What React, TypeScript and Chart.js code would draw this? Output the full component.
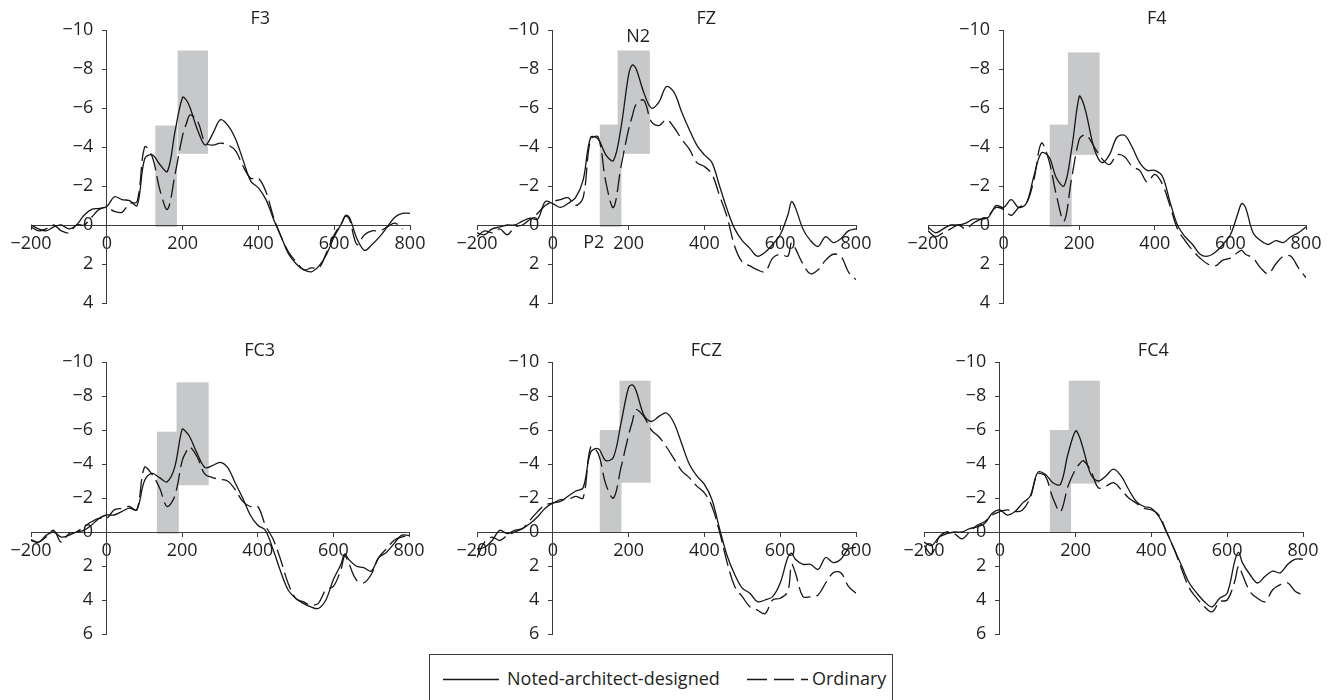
import { useEffect, useRef } from "react";
import { Chart, registerables } from "chart.js";

Chart.register(...registerables);

// ---------- data ----------
const TIMES = [
  -200, -180, -160, -140, -120, -100, -80, -60, -40, -20,
  0, 20, 40, 60, 80, 100, 120, 140, 160, 180, 200,
  210,
  220, 240, 260, 280, 300, 320, 340, 360, 380, 400, 420, 440, 460, 480, 500, 520, 540, 560, 580, 600, 620,
  630,
  640, 660, 680, 700, 720, 740, 760, 780, 800,
];

const TITLES = ["F3", "FZ", "F4", "FC3", "FCZ", "FC4"];
const SERIES_LABELS = ["Noted-architect-designed", "Ordinary"];

const F3_SOLID = [
  0.0, 0.2, 0.3, 0.1, 0.0, 0.2, 0.0, -0.5, -0.8, -0.85,
  -0.95, -1.45, -1.3, -1.25, -1.0, -3.4, -3.6, -3.1, -2.75, -4.8, -6.55,
  -6.4,
  -6.0, -4.85, -4.1, -4.7, -5.4, -5.1, -4.4, -3.3, -2.25, -1.9, -1.3, -0.3, 0.6, 1.5, 2.0, 2.3, 2.4, 2.1, 1.5, 0.6, -0.1,
  -0.5,
  -0.4, 0.7, 1.3, 1.0, 0.6, 0.1, -0.4, -0.6, -0.6,
];
const F3_DASH = [
  0.1, 0.3, 0.2, 0.0, 0.3, 0.4, 0.0, 0.0, -0.4, -0.8,
  -0.9, -0.7, -0.65, -1.1, -1.2, -4.0, -3.5, -1.8, -0.8, -2.6, -4.6,
  -5.2,
  -5.65, -5.3, -4.2, -4.1, -4.2, -4.1, -3.8, -3.0, -2.4, -2.4, -1.7, -0.4, 0.6, 1.4, 1.9, 2.3, 2.2, 2.2, 1.4, 0.5, -0.1,
  -0.45,
  -0.3, 1.0, 0.5, 0.3, 0.3, 0.1, -0.1, 0.2, null,
];

const FZ_SOLID = [
  0.4, 0.5, 0.2, 0.1, 0.0, 0.0, -0.2, -0.35, -0.3, -1.2,
  -1.1, -0.9, -1.1, -1.4, -2.3, -4.5, -4.4, -3.6, -3.3, -5.0, -7.7,
  -8.2,
  -8.0, -6.8, -6.0, -6.3, -7.1, -6.8, -5.8, -4.9, -4.1, -3.6, -3.2, -2.0, -0.8, 0.2, 0.8, 1.2, 1.6, 1.4, 1.0, 0.5, -0.5,
  -1.2,
  -0.9, 0.2, 0.8, 1.1, 0.6, 0.9, 0.7, 0.3, 0.2,
];
const FZ_DASH = [
  0.6, 0.3, 0.4, 0.2, 0.5, 0.1, 0.0, -0.3, -0.6, -1.0,
  -1.2, -1.3, -1.4, -1.0, -1.4, -4.4, -4.5, -2.2, -0.9, -3.0, -4.9,
  -5.6,
  -6.2, -6.4, -5.3, -5.1, -5.4, -5.0, -4.4, -3.9, -3.2, -3.0, -2.6, -1.5, -0.4, 1.1, 1.9, 2.1, 2.3, 2.4, 1.7, 1.5, 1.6,
  0.9,
  1.2, 2.0, 2.5, 2.3, 1.8, 1.5, 1.6, 2.4, 2.8,
];

const F4_SOLID = [
  0.1, 0.4, 0.2, 0.0, 0.0, -0.1, -0.3, -0.3, -0.4, -1.0,
  -0.9, -1.3, -0.9, -1.1, -2.5, -3.7, -3.5, -2.4, -2.0, -3.9, -6.6,
  -6.3,
  -5.6, -3.9, -3.2, -3.6, -4.5, -4.6, -4.0, -3.2, -2.8, -2.8, -2.5, -1.2, 0.0, 0.6, 1.0, 1.5, 1.6, 1.4, 1.0, 0.5, -0.6,
  -1.1,
  -0.9, 0.4, 0.8, 1.0, 0.8, 0.9, 0.6, 0.4, 0.1,
];
const F4_DASH = [
  0.3, 0.6, 0.4, 0.2, 0.0, 0.2, -0.1, -0.3, -0.5, -0.9,
  -0.8, -0.5, -0.9, -1.1, -2.3, -4.2, -3.3, -1.5, -0.2, -2.4, -4.4,
  -4.6,
  -4.6, -4.0, -3.4, -3.1, -3.6, -3.5, -3.0, -2.8, -2.2, -2.6, -2.1, -1.0, 0.2, 0.8, 1.3, 1.7, 2.0, 2.1, 1.8, 1.7, 1.4,
  1.3,
  1.5, 1.7, 2.2, 2.5, 2.0, 1.6, 1.6, 2.2, 2.7,
];

const FC3_SOLID = [
  0.45, 0.6, 0.2, 0.0, 0.3, 0.2, 0.0, -0.1, -0.4, -0.8,
  -1.0, -1.0, -1.2, -1.4, -1.3, -3.0, -3.45, -3.2, -2.95, -3.8, -6.05,
  -5.9,
  -5.6, -4.6, -3.8, -3.9, -4.1, -3.8, -2.9, -2.0, -1.0, -0.4, -0.1, 1.0, 2.3, 3.4, 3.9, 4.2, 4.4, 4.5, 4.0, 2.8, 1.9,
  1.3,
  1.6, 2.0, 2.1, 2.3, 1.5, 1.2, 0.7, 0.2, 0.2,
];
const FC3_DASH = [
  0.5, 0.6, 0.3, -0.1, 0.6, 0.1, 0.0, -0.3, -0.6, -0.8,
  -0.8, -1.3, -1.4, -1.5, -1.3, -3.8, -3.4, -2.6, -1.5, -2.1, -4.2,
  -4.7,
  -5.0, -4.4, -3.4, -3.2, -3.1, -3.0, -2.5, -1.8, -1.5, -1.5, -0.4, 0.4, 1.6, 3.0, 3.9, 4.1, 4.3, 4.2, 3.4, 3.2, 2.2,
  1.4,
  1.8, 2.8, 3.0, 2.5, 1.5, 1.0, 0.5, 0.3, 0.2,
];

const FCZ_SOLID = [
  1.0, 0.9, 0.5, -0.1, 0.1, -0.1, -0.2, -0.5, -0.9, -1.4,
  -1.7, -1.8, -2.1, -2.4, -2.6, -4.7, -4.9, -4.2, -4.4, -6.4, -8.5,
  -8.65,
  -8.3, -6.9, -6.5, -6.8, -7.0, -6.4, -5.2, -4.0, -3.3, -2.8, -1.9, -0.2, 1.4, 2.5, 3.3, 3.6, 4.1, 4.0, 3.8, 3.0, 1.5,
  1.25,
  1.6, 1.9, 1.9, 2.2, 1.5, 1.8, 1.6, 1.0, 0.9,
];
const FCZ_DASH = [
  1.5, 0.6, 0.3, 0.5, 0.2, 0.0, -0.2, -0.7, -1.2, -1.6,
  -1.7, -1.9, -1.9, -2.1, -2.0, -5.0, -4.6, -2.8, -2.0, -3.8, -5.7,
  -6.5,
  -7.2, -6.8, -6.0, -5.6, -5.0, -4.3, -3.6, -3.2, -2.7, -2.3, -1.5, 0.0, 1.8, 3.2, 3.8, 4.4, 4.6, 4.8, 4.0, 3.9, 3.5,
  1.9,
  2.4, 3.8, 3.8, 3.7, 3.0, 2.4, 2.4, 3.2, 3.6,
];

const FC4_SOLID = [
  0.6, 0.8, 0.3, 0.1, 0.0, 0.0, -0.2, -0.3, -0.5, -1.1,
  -1.3, -1.0, -1.2, -1.7, -2.1, -3.5, -3.4, -2.9, -2.8, -4.6, -5.95,
  -5.6,
  -4.9, -3.4, -3.0, -3.3, -3.7, -3.3, -2.5, -1.8, -1.5, -1.4, -0.9, 0.0, 1.0, 2.0, 3.0, 3.6, 4.1, 4.4, 3.9, 3.6, 1.7,
  1.2,
  1.8, 2.5, 3.0, 2.6, 2.3, 2.4, 1.9, 1.6, 1.6,
];
const FC4_DASH = [
  0.8, 1.3, 0.3, 0.0, 0.1, 0.4, 0.0, -0.4, -0.6, -1.0,
  -1.2, -1.3, -1.2, -1.3, -2.0, -3.4, -3.3, -2.0, -1.2, -2.7, -3.7,
  -4.0,
  -4.2, -3.6, -2.6, -2.7, -2.9, -2.5, -2.0, -1.7, -1.4, -1.3, -1.0, 0.0, 1.0, 2.2, 3.3, 3.9, 4.4, 4.7, 4.1, 4.0, 2.9,
  2.0,
  2.5, 3.5, 3.9, 4.1, 3.4, 3.1, 3.0, 3.5, 3.7,
];

// shaded analysis windows: [t start, t end, value top, value bottom]
const F3_WINDOWS = [[128, 185, -5.1, 0.1], [187, 267, -8.95, -3.65]];
const FZ_WINDOWS = [[124, 181, -5.15, 0.1], [171, 256, -8.95, -3.65]];
const F4_WINDOWS = [[122, 180, -5.15, 0.1], [170, 254, -8.85, -3.6]];
const FC3_WINDOWS = [[133, 191, -5.9, 0.1], [185, 270, -8.8, -2.75]];
const FCZ_WINDOWS = [[124, 181, -6.0, 0.05], [176, 258, -8.9, -2.9]];
const FC4_WINDOWS = [[132, 188, -6.0, 0.05], [182, 264, -8.9, -2.85]];

// component labels in FZ: [text, t, value]
const FZ_NOTES: [string, number, number][] = [["N2", 225, -9.65], ["P2", 108, 0.9]];

const X_RANGE = [-200, 800];
const X_STEP = 200;
const TOP_Y_RANGE = [-10, 4];
const BOTTOM_Y_RANGE = [-10, 6];
const Y_STEP = 2;
const TITLE_T = 405;

// ---------- styling / layout ----------
const FONT = "'Open Sans', Lato, 'DejaVu Sans', sans-serif";
const FONT_SIZE = 18;
const TEXT = "#231f20";
const AXIS = "#3c3c3c";
const LINE = "#161616";
const SHADE = "#c7c8ca";
const PAD = { left: 30, right: 30, top: 30, bottom: 20 };
const Y_LABEL_GAP = "\u2002\u2005";

type PanelSpec = {
  title: string;
  solid: (number | null)[];
  dash: (number | null)[];
  windows: number[][];
  notes: [string, number, number][];
  yRange: number[];
  area: { l: number; r: number; t: number; b: number };
};

const PANELS: PanelSpec[] = [
  { title: TITLES[0], solid: F3_SOLID, dash: F3_DASH, windows: F3_WINDOWS, notes: [], yRange: TOP_Y_RANGE, area: { l: 31, r: 410, t: 30, b: 303 } },
  { title: TITLES[1], solid: FZ_SOLID, dash: FZ_DASH, windows: FZ_WINDOWS, notes: FZ_NOTES, yRange: TOP_Y_RANGE, area: { l: 477, r: 856, t: 30, b: 303 } },
  { title: TITLES[2], solid: F4_SOLID, dash: F4_DASH, windows: F4_WINDOWS, notes: [], yRange: TOP_Y_RANGE, area: { l: 928, r: 1306, t: 30, b: 303 } },
  { title: TITLES[3], solid: FC3_SOLID, dash: FC3_DASH, windows: FC3_WINDOWS, notes: [], yRange: BOTTOM_Y_RANGE, area: { l: 31, r: 409, t: 362, b: 634 } },
  { title: TITLES[4], solid: FCZ_SOLID, dash: FCZ_DASH, windows: FCZ_WINDOWS, notes: [], yRange: BOTTOM_Y_RANGE, area: { l: 477, r: 856, t: 362, b: 634 } },
  { title: TITLES[5], solid: FC4_SOLID, dash: FC4_DASH, windows: FC4_WINDOWS, notes: [], yRange: BOTTOM_Y_RANGE, area: { l: 924, r: 1303, t: 362, b: 634 } },
];

const fmt = (v: number) => (v < 0 ? "\u2212" + Math.abs(v) : String(v));

function Panel({ spec }: { spec: PanelSpec }) {
  const ref = useRef<HTMLCanvasElement | null>(null);
  const { l, r, t, b } = spec.area;
  const left = l - PAD.left;
  const top = t - PAD.top;
  const width = r - l + PAD.left + PAD.right;
  const height = b - t + PAD.top + PAD.bottom;

  useEffect(() => {
    const canvas = ref.current;
    if (!canvas) return;

    const decor = {
      id: "decor",
      beforeDraw(chart: any) {
        const { ctx, scales } = chart;
        const xs = scales.x;
        const ys = scales.y;
        ctx.save();
        ctx.fillStyle = SHADE;
        for (const w of spec.windows) {
          const x0 = xs.getPixelForValue(w[0]);
          const x1 = xs.getPixelForValue(w[1]);
          const y0 = ys.getPixelForValue(w[2]);
          const y1 = ys.getPixelForValue(w[3]);
          ctx.fillRect(Math.min(x0, x1), Math.min(y0, y1), Math.abs(x1 - x0), Math.abs(y1 - y0));
        }
        ctx.restore();
      },
      afterDraw(chart: any) {
        const { ctx, scales, chartArea } = chart;
        ctx.save();
        ctx.fillStyle = TEXT;
        ctx.font = `${FONT_SIZE}px ${FONT}`;
        ctx.textAlign = "center";
        ctx.textBaseline = "middle";
        ctx.fillText(spec.title, scales.x.getPixelForValue(TITLE_T), chartArea.top - 11);
        for (const [txt, tt, vv] of spec.notes) {
          ctx.fillText(txt, scales.x.getPixelForValue(tt), scales.y.getPixelForValue(vv));
        }
        ctx.restore();
      },
    };

    const tickFont = { family: FONT, size: FONT_SIZE };
    const axisGrid = {
      display: true,
      drawOnChartArea: false,
      drawTicks: true,
      tickLength: 4,
      color: AXIS,
      lineWidth: 1,
    };

    const chart = new Chart(canvas, {
      type: "line",
      data: {
        datasets: [
          {
            label: SERIES_LABELS[0],
            data: TIMES.map((x, i) => ({ x, y: spec.solid[i] })) as any,
            borderColor: LINE,
            borderWidth: 1.3,
            pointRadius: 0,
            tension: 0.35,
            fill: false,
          },
          {
            label: SERIES_LABELS[1],
            data: TIMES.map((x, i) => ({ x, y: spec.dash[i] })) as any,
            borderColor: LINE,
            borderWidth: 1.3,
            borderDash: [18, 6],
            pointRadius: 0,
            tension: 0.35,
            fill: false,
          },
        ],
      },
      options: {
        animation: false,
        responsive: false,
        events: [],
        layout: { padding: PAD },
        plugins: {
          legend: { display: false },
          title: { display: false },
          tooltip: { enabled: false },
        },
        scales: {
          x: {
            type: "linear",
            min: X_RANGE[0],
            max: X_RANGE[1],
            position: { y: 0 } as any,
            ticks: {
              stepSize: X_STEP,
              autoSkip: false,
              maxRotation: 0,
              padding: 4,
              color: TEXT,
              font: tickFont,
              callback: (v: any) => fmt(Number(v)),
            },
            grid: axisGrid as any,
            border: { display: true, color: AXIS, width: 1 },
          },
          y: {
            type: "linear",
            min: spec.yRange[0],
            max: spec.yRange[1],
            reverse: true,
            position: { x: 0 } as any,
            ticks: {
              stepSize: Y_STEP,
              autoSkip: false,
              color: TEXT,
              font: tickFont,
              callback: (v: any) => fmt(Number(v)) + Y_LABEL_GAP,
            },
            grid: axisGrid as any,
            border: { display: true, color: AXIS, width: 1 },
          },
        },
      },
      plugins: [decor],
    });
    return () => chart.destroy();
  }, [spec]);

  return (
    <canvas
      ref={ref}
      width={width}
      height={height}
      style={{ position: "absolute", left, top, width, height }}
    />
  );
}

function Legend() {
  const txt = {
    position: "absolute" as const,
    top: 12,
    font: `${FONT_SIZE}px ${FONT}`,
    lineHeight: "22px",
    color: TEXT,
    whiteSpace: "nowrap" as const,
  };
  return (
    <div
      style={{
        position: "absolute",
        left: 429,
        top: 654,
        width: 464,
        height: 60,
        border: `1px solid ${AXIS}`,
        boxSizing: "border-box",
        background: "#fff",
      }}
    >
      <svg width={462} height={58} style={{ position: "absolute", left: 0, top: 0 }}>
        <line x1={13} y1={24.5} x2={69} y2={24.5} stroke={LINE} strokeWidth={1.3} />
        <line x1={317} y1={24.5} x2={378} y2={24.5} stroke={LINE} strokeWidth={1.3} strokeDasharray="20 7" />
      </svg>
      <span style={{ ...txt, left: 77 }}>{SERIES_LABELS[0]}</span>
      <span style={{ ...txt, left: 382 }}>{SERIES_LABELS[1]}</span>
    </div>
  );
}

export default function App() {
  return (
    <div
      style={{
        position: "absolute",
        left: 0,
        top: 0,
        width: 1333,
        height: 700,
        overflow: "hidden",
        background: "#fff",
        fontFamily: FONT,
      }}
    >
      {PANELS.map((p) => (
        <Panel key={p.title} spec={p} />
      ))}
      <Legend />
    </div>
  );
}
